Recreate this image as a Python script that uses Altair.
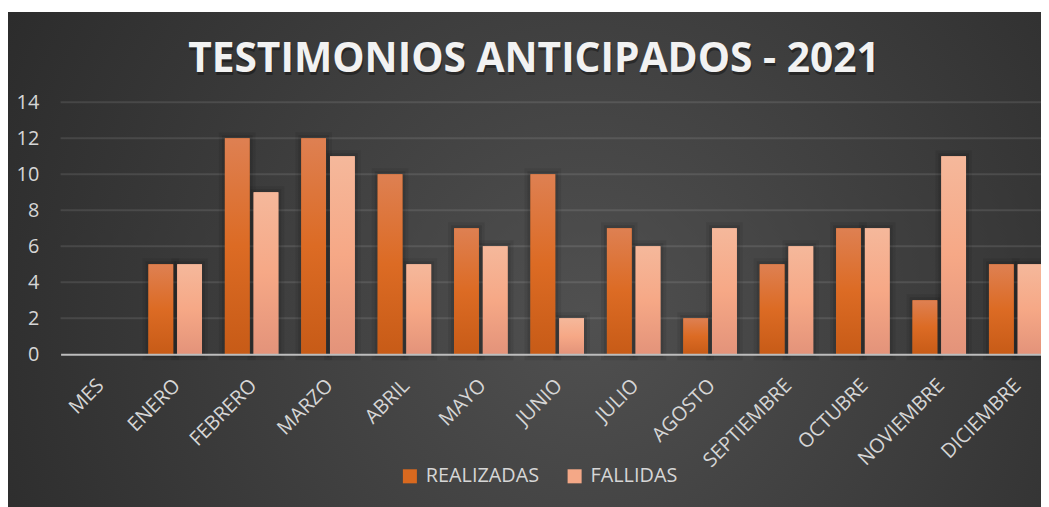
import altair as alt
import pandas as pd

TITLE = "TESTIMONIOS ANTICIPADOS - 2021"
meses = ["MES", "ENERO", "FEBRERO", "MARZO", "ABRIL", "MAYO", "JUNIO",
         "JULIO", "AGOSTO", "SEPTIEMBRE", "OCTUBRE", "NOVIEMBRE", "DICIEMBRE"]
realizadas = [None, 5, 12, 12, 10, 7, 10, 7, 2, 5, 7, 3, 5]
fallidas = [None, 5, 9, 11, 5, 6, 2, 6, 7, 6, 7, 11, 5]
series = ["REALIZADAS", "FALLIDAS"]
y_ticks = [0, 2, 4, 6, 8, 10, 12, 14]
grid_vals = [2, 4, 6, 8, 10, 12, 14]

rows = []
for m, r, f in zip(meses, realizadas, fallidas):
    rows.append({"mes": m, "serie": "REALIZADAS", "valor": r})
    rows.append({"mes": m, "serie": "FALLIDAS", "valor": f})
df = pd.DataFrame(rows)

W, H = 988, 254
PAD_L, PAD_T, PAD_B = 53, 93, 152
FONT = "Open Sans"
TXT = "#d6d6d6"

x_enc = alt.X("mes:N", sort=meses,
              scale=alt.Scale(domain=meses, range=[0, 1001], paddingInner=0.3, paddingOuter=0.15),
              axis=alt.Axis(title=None, labelAngle=-45, labelFontSize=20, labelFont=FONT,
                            labelColor=TXT, ticks=False, domainColor="#bdbdbd", domainWidth=2,
                            labelPadding=21, labelOffset=-5, zindex=1))
xo_enc = alt.XOffset("serie:N", sort=series,
                     scale=alt.Scale(domain=series, paddingInner=0.14, paddingOuter=0))
y_axis = alt.Axis(title=None, values=y_ticks, labelFontSize=20, labelFont=FONT, labelColor=TXT,
                  ticks=False, domain=False, grid=False, labelPadding=22, zindex=1)
y_scale = alt.Scale(domain=[0, 14], nice=False)

bg_fill = {"gradient": "radial", "x1": 0.55, "y1": 0.55, "r1": 0, "x2": 0.55, "y2": 0.55, "r2": 0.72,
           "stops": [{"offset": 0, "color": "#505050"}, {"offset": 1, "color": "#262626"}]}
bg = alt.Chart(pd.DataFrame({"a": [0]})).mark_rect(fill=bg_fill).encode(
    x=alt.value(-PAD_L), x2=alt.value(W + 20), y=alt.value(-91), y2=alt.value(H + PAD_B + 10))

title_df = pd.DataFrame({"t": [TITLE]})
title_shadow = alt.Chart(title_df).mark_text(
    font=FONT, fontSize=41, fontWeight="bold", color="black", opacity=0.35,
    align="center", baseline="alphabetic").encode(
    text="t:N", x=alt.value(477 + 1), y=alt.value(-30 + 3))
title_txt = alt.Chart(title_df).mark_text(
    font=FONT, fontSize=41, fontWeight="bold", color="#f2f2f2",
    align="center", baseline="alphabetic").encode(
    text="t:N", x=alt.value(477), y=alt.value(-30))

grid = alt.Chart(pd.DataFrame({"t": grid_vals})).mark_rule(
    color="white", opacity=0.1, strokeWidth=2).encode(
    y=alt.Y("t:Q", scale=y_scale, axis=y_axis))

base = alt.Chart(df).encode(x=x_enc, xOffset=xo_enc,
                            y=alt.Y("valor:Q", scale=y_scale, axis=y_axis))

shadow1 = base.mark_bar(stroke="black", strokeWidth=12, strokeOpacity=0.07, fillOpacity=0)
shadow2 = base.mark_bar(stroke="black", strokeWidth=6, strokeOpacity=0.1, fillOpacity=0)

legend_bars = base.mark_bar().encode(
    color=alt.Color("serie:N", sort=series,
                    scale=alt.Scale(domain=series, range=["#d9691f", "#f4a887"]),
                    legend=alt.Legend(title=None, orient="none", direction="horizontal",
                                      legendX=342, legendY=367, symbolType="square",
                                      symbolSize=200, symbolStrokeWidth=0, labelFont=FONT,
                                      labelFontSize=20, labelColor=TXT, labelOffset=6,
                                      columnPadding=25, labelLimit=300)))

grad_r = {"gradient": "linear", "x1": 0, "y1": 0, "x2": 0, "y2": 1,
          "stops": [{"offset": 0, "color": "#de8052"}, {"offset": 0.5, "color": "#dc6b24"},
                    {"offset": 1, "color": "#c75b17"}]}
grad_f = {"gradient": "linear", "x1": 0, "y1": 0, "x2": 0, "y2": 1,
          "stops": [{"offset": 0, "color": "#f5b89b"}, {"offset": 0.5, "color": "#f6a886"},
                    {"offset": 1, "color": "#e3937a"}]}
bars_r = base.transform_filter(alt.datum.serie == "REALIZADAS").mark_bar(fill=grad_r)
bars_f = base.transform_filter(alt.datum.serie == "FALLIDAS").mark_bar(fill=grad_f)

chart = alt.layer(bg, title_shadow, title_txt, grid, shadow1, shadow2, legend_bars,
                  bars_r, bars_f).properties(
    width=W, height=H,
    autosize=alt.AutoSizeParams(type="none"),
    padding={"left": PAD_L, "top": PAD_T, "right": 0, "bottom": PAD_B},
    background="white",
).configure_view(stroke=None)

chart.save("out.html", embed_options={"renderer": "svg", "actions": False})
